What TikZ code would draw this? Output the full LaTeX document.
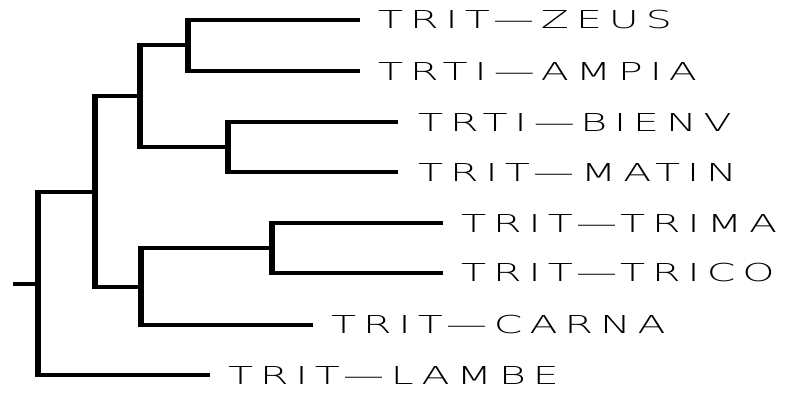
\documentclass[tikz,border=0pt]{standalone}
\usepackage{fontspec}
\newfontfamily\leaffont[LetterSpace=17]{DejaVu Sans ExtraLight}
\newcommand{\leaftext}[1]{\scalebox{1.66}[1]{\leaffont\fontsize{24.7pt}{25pt}\selectfont #1}}
\begin{document}
\begin{tikzpicture}[x=1pt,y=-1pt,
  hline/.style={line width=3.5pt},
  vline/.style={line width=6pt,shorten <=-1.75pt,shorten >=-1.75pt},
  leaf/.style={anchor=west,inner sep=0pt}]
\useasboundingbox (0,0) rectangle (786,394);
% leaves
\node[leaf] (zeus)  at (378,20)  {\leaftext{TRIT—ZEUS}};
\node[leaf] (ampia) at (378,71)  {\leaftext{TRTI—AMPIA}};
\node[leaf] (bienv) at (418,122) {\leaftext{TRTI—BIENV}};
\node[leaf] (matin) at (418,172) {\leaftext{TRIT—MATIN}};
\node[leaf] (trima) at (461,223) {\leaftext{TRIT—TRIMA}};
\node[leaf] (trico) at (461,273) {\leaftext{TRIT—TRICO}};
\node[leaf] (carna) at (331,325) {\leaftext{TRIT—CARNA}};
\node[leaf] (lambe) at (228,375) {\leaftext{TRIT—LAMBE}};
% internal nodes
\coordinate (R) at (38,284);
\coordinate (stub) at (13,284);
\coordinate (A) at (95,192);
\coordinate (B) at (140,96);
\coordinate (C) at (188,45);
\coordinate (D) at (228,147);
\coordinate (E) at (141,287);
\coordinate (F) at (272,248);
% horizontals
\draw[hline] (stub) -- (R);
\draw[hline] (R |- A) -- (A);
\draw[hline] (R |- lambe.west) -- ([xshift=-18pt]lambe.west);
\draw[hline] (A |- B) -- (B);
\draw[hline] (A |- E) -- (E);
\draw[hline] (B |- C) -- (C);
\draw[hline] (B |- D) -- (D);
\draw[hline] (C |- zeus.west) -- ([xshift=-18pt]zeus.west);
\draw[hline] (C |- ampia.west) -- ([xshift=-18pt]ampia.west);
\draw[hline] (D |- bienv.west) -- ([xshift=-20pt]bienv.west);
\draw[hline] (D |- matin.west) -- ([xshift=-20pt]matin.west);
\draw[hline] (E |- F) -- (F);
\draw[hline] (E |- carna.west) -- ([xshift=-18pt]carna.west);
\draw[hline] (F |- trima.west) -- ([xshift=-18pt]trima.west);
\draw[hline] (F |- trico.west) -- ([xshift=-18pt]trico.west);
% verticals
\draw[vline] (R |- A) -- (R |- lambe.west);
\draw[vline] (A |- B) -- (A |- E);
\draw[vline] (B |- C) -- (B |- D);
\draw[vline] (C |- zeus.west) -- (C |- ampia.west);
\draw[vline] (D |- bienv.west) -- (D |- matin.west);
\draw[vline] (E |- F) -- (E |- carna.west);
\draw[vline] (F |- trima.west) -- (F |- trico.west);
\end{tikzpicture}
\end{document}
